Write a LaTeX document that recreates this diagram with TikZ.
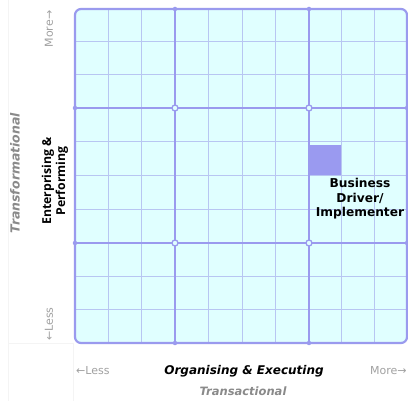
\documentclass[tikz,border=0pt]{standalone}
\usepackage{fontspec}
\setmainfont{DejaVu Sans}
\newfontfamily\osans{Open Sans}
\definecolor{cellfill}{HTML}{E0FFFF}
\definecolor{major}{HTML}{9A9AEE}
\definecolor{minor}{HTML}{B8C6F2}
\definecolor{hilite}{HTML}{9A9AF0}
\definecolor{lbl}{HTML}{8A8A8A}
\definecolor{faint}{HTML}{F4F4F4}
\tikzset{
  majorline/.style={draw=major, line width=2.2pt},
  minorline/.style={draw=minor, line width=1pt},
  junction/.style={circle, draw=major, fill=cellfill, line width=1.3pt, inner sep=0pt, minimum size=6pt},
  edgejunction/.style={circle, fill=major, inner sep=0pt, minimum size=4.5pt},
  axistitle/.style={font=\fontsize{12}{13}\selectfont\bfseries\itshape, text=black, inner sep=0pt},
  axissub/.style={font=\fontsize{11.5}{13}\selectfont\bfseries\itshape, text=lbl, inner sep=0pt},
  moreless/.style={font=\fontsize{11}{13}\selectfont, text=lbl!80, inner sep=0pt},
  celllabel/.style={font=\fontsize{12.2}{14.5}\selectfont\bfseries, align=center, inner sep=0pt},
  sidetitle/.style={font=\osans\fontsize{12.3}{14}\selectfont\bfseries, align=center, inner sep=0pt}
}
\begin{document}
\begin{tikzpicture}[x=1pt, y=-1pt]
\useasboundingbox (0,0) rectangle (408,401);
\fill[white] (0,0) rectangle (408,401);
% faint table borders
\draw[faint, line width=0.8pt] (8,0) -- (8,401);
\draw[faint, line width=0.8pt] (73,343) -- (73,401);
\draw[faint, line width=0.8pt] (8,343) -- (73,343);
% grid background
\fill[cellfill, rounded corners=6pt] (75,9) rectangle (407,343);
% highlighted cell
\fill[hilite] (309,145) rectangle (342,175.5);
% minor lines
\foreach \x in {108.3,141.7,208.5,242,275.5,341.7,374.3}
  \draw[minorline] (\x,9) -- (\x,343);
\foreach \y in {42,75,141.75,175.5,209.25,276.3,309.7}
  \draw[minorline] (75,\y) -- (407,\y);
% major lines
\draw[majorline] (175,9) -- (175,343);
\draw[majorline] (309,9) -- (309,343);
\draw[majorline] (75,108) -- (407,108);
\draw[majorline] (75,243) -- (407,243);
\draw[majorline, rounded corners=6pt] (75,9) rectangle (407,343);
% junctions
\foreach \p in {(175,108),(309,108),(175,243),(309,243)}
  \node[junction] at \p {};
\foreach \p in {(75,108),(407,108),(75,243),(407,243),(175,9),(309,9),(175,343),(309,343)}
  \node[edgejunction] at \p {};
% labels
\node[celllabel] (bd) at (360,199) {Business\\Driver/\\Implementer};
\node[sidetitle, rotate=90] (ep) at (55,181) {Enterprising \&\\Performing};
\node[axissub, rotate=90, font=\fontsize{12.5}{13}\selectfont\bfseries\itshape] (tf) at (15,173) {Transformational};
\node[moreless, rotate=90] (lmore) at (49,29) {More→};
\node[moreless, rotate=90] (lless) at (49,324) {←Less};
\node[moreless, anchor=west] (bless) at (76,371) {←Less};
\node[moreless, anchor=west] (bmore) at (370,371) {More→};
\node[axistitle] (oe) at (244,371) {Organising \& Executing};
\node[axissub] (tr) at (243,391) {Transactional};
\end{tikzpicture}
\end{document}
